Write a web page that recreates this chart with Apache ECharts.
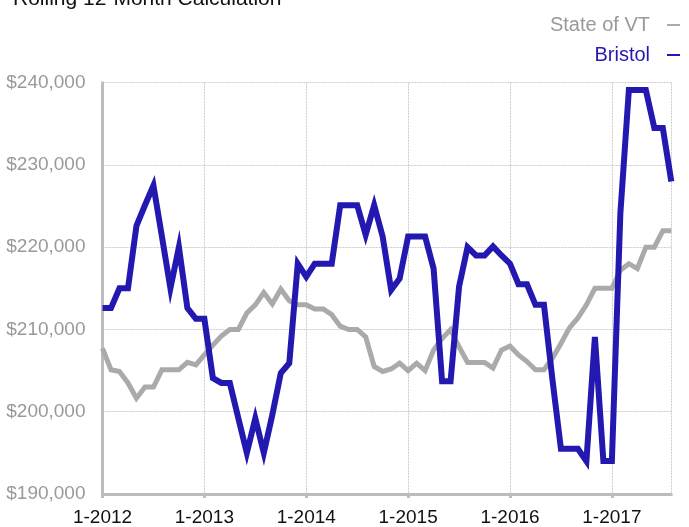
<!DOCTYPE html>
<html>
<head>
<meta charset="utf-8">
<script src="https://cdn.jsdelivr.net/npm/echarts@6/dist/echarts.min.js"></script>
<style>
  html, body { margin: 0; padding: 0; background: #fff; }
  #chart { width: 689px; height: 527px; }
</style>
</head>
<body>
<div id="chart"></div>
<script>
// monthly points, 1-2012 .. 8-2017
var startYear = 2012;
var monthCount = 68;
var months = [];
for (var m = 0; m < monthCount; m++) {
  months.push((m % 12 + 1) + "-" + (startYear + Math.floor(m / 12)));
}

var stateOfVT = [
  207700, 205100, 204900, 203500, 201650, 203000, 203000, 205100, 205100, 205100, 206000, 205700,
  206900, 208100, 209200, 210000, 210000, 212000, 213000, 214500, 213100, 214900, 213500, 213000,
  213000, 212500, 212500, 211800, 210400, 210000, 210000, 209100, 205500, 204900, 205200, 205900,
  205000, 205900, 205000, 207500, 208900, 210000, 207900, 206000, 206000, 206000, 205300, 207500,
  208000, 206900, 206100, 205100, 205100, 206500, 208300, 210200, 211400, 213000, 215000, 215000,
  215000, 217200, 218000, 217400, 220000, 220000, 222000, 222000
];

var bristol = [
  212600, 212600, 215000, 215000, 222600, 225100, 227500, 221300, 215000, 220000, 212600, 211300,
  211300, 204100, 203500, 203500, 199200, 195000, 199200, 195000, 199600, 204700, 205900, 218000,
  216400, 218000, 218000, 218000, 225100, 225100, 225100, 221500, 225100, 221300, 214800, 216200,
  221300, 221300, 221300, 217400, 203700, 203700, 215200, 220000, 219000, 219000, 220100, 219000,
  218000, 215500, 215500, 213000, 213000, 203900, 195500, 195500, 195500, 194000, 209100, 194000,
  194000, 224100, 239100, 239100, 239100, 234500, 234500, 228000
];

var yMin = 190000;
var yMax = 240000;
var yStep = 10000;

var grayColor = "#aaaaaa";
var blueColor = "#2318b0";
var font = "'Liberation Sans', Arial, sans-serif";

var myChart = echarts.init(document.getElementById("chart"));

var option = {
  animation: false,
  title: {
    text: "Rolling 12-Month Calculation",
    left: 8,
    top: -16,
    textStyle: {
      fontFamily: font,
      fontSize: 21,
      fontWeight: "normal",
      color: "#111",
    },
  },
  legend: {
    orient: "vertical",
    right: 4,
    top: 10,
    align: "right",
    icon: "rect",
    itemWidth: 13,
    itemHeight: 2,
    itemGap: 10,
    textStyle: {
      fontFamily: font,
      fontSize: 20,
      lineHeight: 20,
      padding: [0, 12, 0, 0],
    },
    data: [
      { name: "State of VT", textStyle: { color: "#999999" } },
      { name: "Bristol", textStyle: { color: blueColor } },
    ],
  },
  grid: {
    left: 102.5,
    right: 17.7,
    top: 82.7,
    bottom: 33,
  },
  xAxis: {
    type: "category",
    boundaryGap: false,
    data: months,
    axisLine: {
      lineStyle: { color: "#bdbdbd", width: 3 },
    },
    axisTick: {
      show: true,
      interval: 11,
      length: 4,
      lineStyle: { color: "#bdbdbd", width: 3 },
    },
    axisLabel: {
      interval: 11,
      margin: 14,
      fontFamily: font,
      fontSize: 19,
      color: "#111",
    },
    splitLine: {
      show: true,
      interval: function (index) {
        return index % 12 === 0 || index === monthCount - 1;
      },
      lineStyle: { color: "#cccccc", type: [2, 1], width: 1 },
    },
  },
  yAxis: {
    type: "value",
    min: yMin,
    max: yMax,
    interval: yStep,
    axisLine: {
      show: true,
      lineStyle: { color: "#bdbdbd", width: 3 },
    },
    axisTick: { show: false },
    axisLabel: {
      margin: 17,
      fontFamily: font,
      fontSize: 19,
      color: "#999999",
      formatter: function (v) {
        return "$" + v.toLocaleString("en-US");
      },
    },
    splitLine: {
      lineStyle: { color: "#cccccc", type: [2, 1], width: 1 },
    },
  },
  series: [
    {
      name: "State of VT",
      type: "line",
      data: stateOfVT,
      showSymbol: false,
      color: grayColor,
      lineStyle: { width: 5, color: grayColor, join: "miter" },
    },
    {
      name: "Bristol",
      type: "line",
      data: bristol,
      showSymbol: false,
      color: blueColor,
      lineStyle: { width: 6, color: blueColor, join: "miter" },
    },
  ],
};

option && myChart.setOption(option);
</script>
</body>
</html>
